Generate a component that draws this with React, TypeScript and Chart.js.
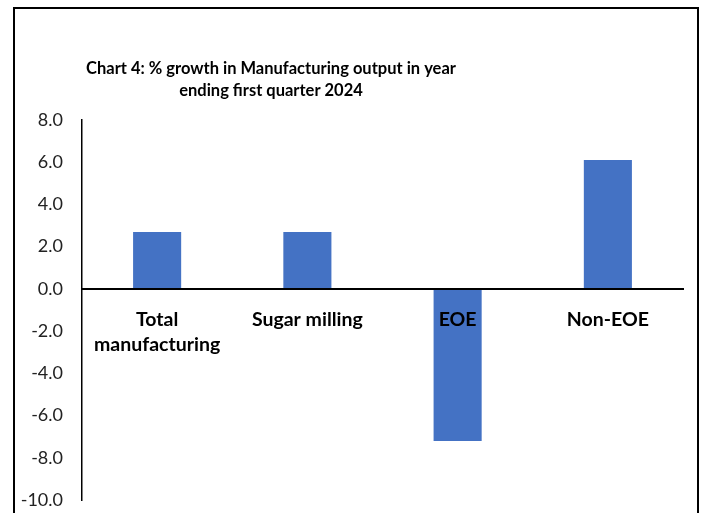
import React, { useEffect, useRef } from "react";
import { Chart, registerables } from "chart.js";

Chart.register(...registerables);

const categories: (string | string[])[] = [["Total", "manufacturing"], "Sugar milling", "EOE", "Non-EOE"];
const growthValues = [2.7, 2.7, -7.2, 6.1];
const titleLines = ["Chart 4: % growth in Manufacturing output in year", "ending first quarter 2024"];
const yMin = -10;
const yMax = 8;
const yStep = 2;

const FONT = "Lato, 'Open Sans', sans-serif";

// keeps the title block centred where the original places it
const titlePlacement = {
  id: "titlePlacement",
  afterLayout(chart: any) {
    if (chart.titleBlock) {
      chart.titleBlock.left = 0;
      chart.titleBlock.right = 542;
    }
  },
};

export default function App() {
  const ref = useRef<HTMLCanvasElement>(null);

  useEffect(() => {
    if (!ref.current) return;
    const chart = new Chart(ref.current, {
      type: "bar",
      data: {
        labels: categories,
        datasets: [
          {
            data: growthValues,
            backgroundColor: "#4472C4",
            borderWidth: 0,
            barPercentage: 0.32,
            categoryPercentage: 1,
          },
        ],
      },
      plugins: [titlePlacement],
      options: {
        animation: false,
        responsive: false,
        maintainAspectRatio: false,
        layout: { padding: { left: 0, right: 18, top: 0, bottom: 13 } },
        plugins: {
          legend: { display: false },
          tooltip: { enabled: false },
          title: {
            display: true,
            text: titleLines,
            color: "#000",
            font: { family: FONT, size: 16.5, weight: "bold", lineHeight: 1.333 },
            padding: { top: 58, bottom: 18 },
          },
        },
        scales: {
          x: {
            position: { y: 0 } as any,
            grid: { display: false, drawTicks: false },
            border: { display: true, color: "#000", width: 2, z: 1 },
            ticks: {
              z: 1,
              color: "#000",
              padding: 18,
              maxRotation: 0,
              autoSkip: false,
              font: { family: FONT, size: 19.5, weight: "bold", lineHeight: 1.3 },
            },
          },
          y: {
            min: yMin,
            max: yMax,
            grid: { display: false, drawTicks: true, tickLength: 19 },
            border: { display: true, color: "#000", width: 1.5 },
            ticks: {
              stepSize: yStep,
              color: "#222",
              padding: 0,
              font: { family: FONT, size: 18 },
              callback: (v: any) => Number(v).toFixed(1),
            },
            afterFit: (s: any) => {
              s.width = 82;
            },
          },
        },
      },
    });
    return () => chart.destroy();
  }, []);

  return (
    <div
      style={{
        position: "fixed",
        left: 0,
        top: 0,
        width: 701,
        height: 513,
        overflow: "hidden",
        background: "#fff",
      }}
    >
      <div
        style={{
          position: "absolute",
          left: 13,
          top: 7,
          width: 686,
          height: 600,
          border: "2px solid #000",
          boxSizing: "border-box",
        }}
      />
      <canvas ref={ref} width={701} height={513} style={{ position: "absolute", left: 0, top: 0 }} />
    </div>
  );
}
